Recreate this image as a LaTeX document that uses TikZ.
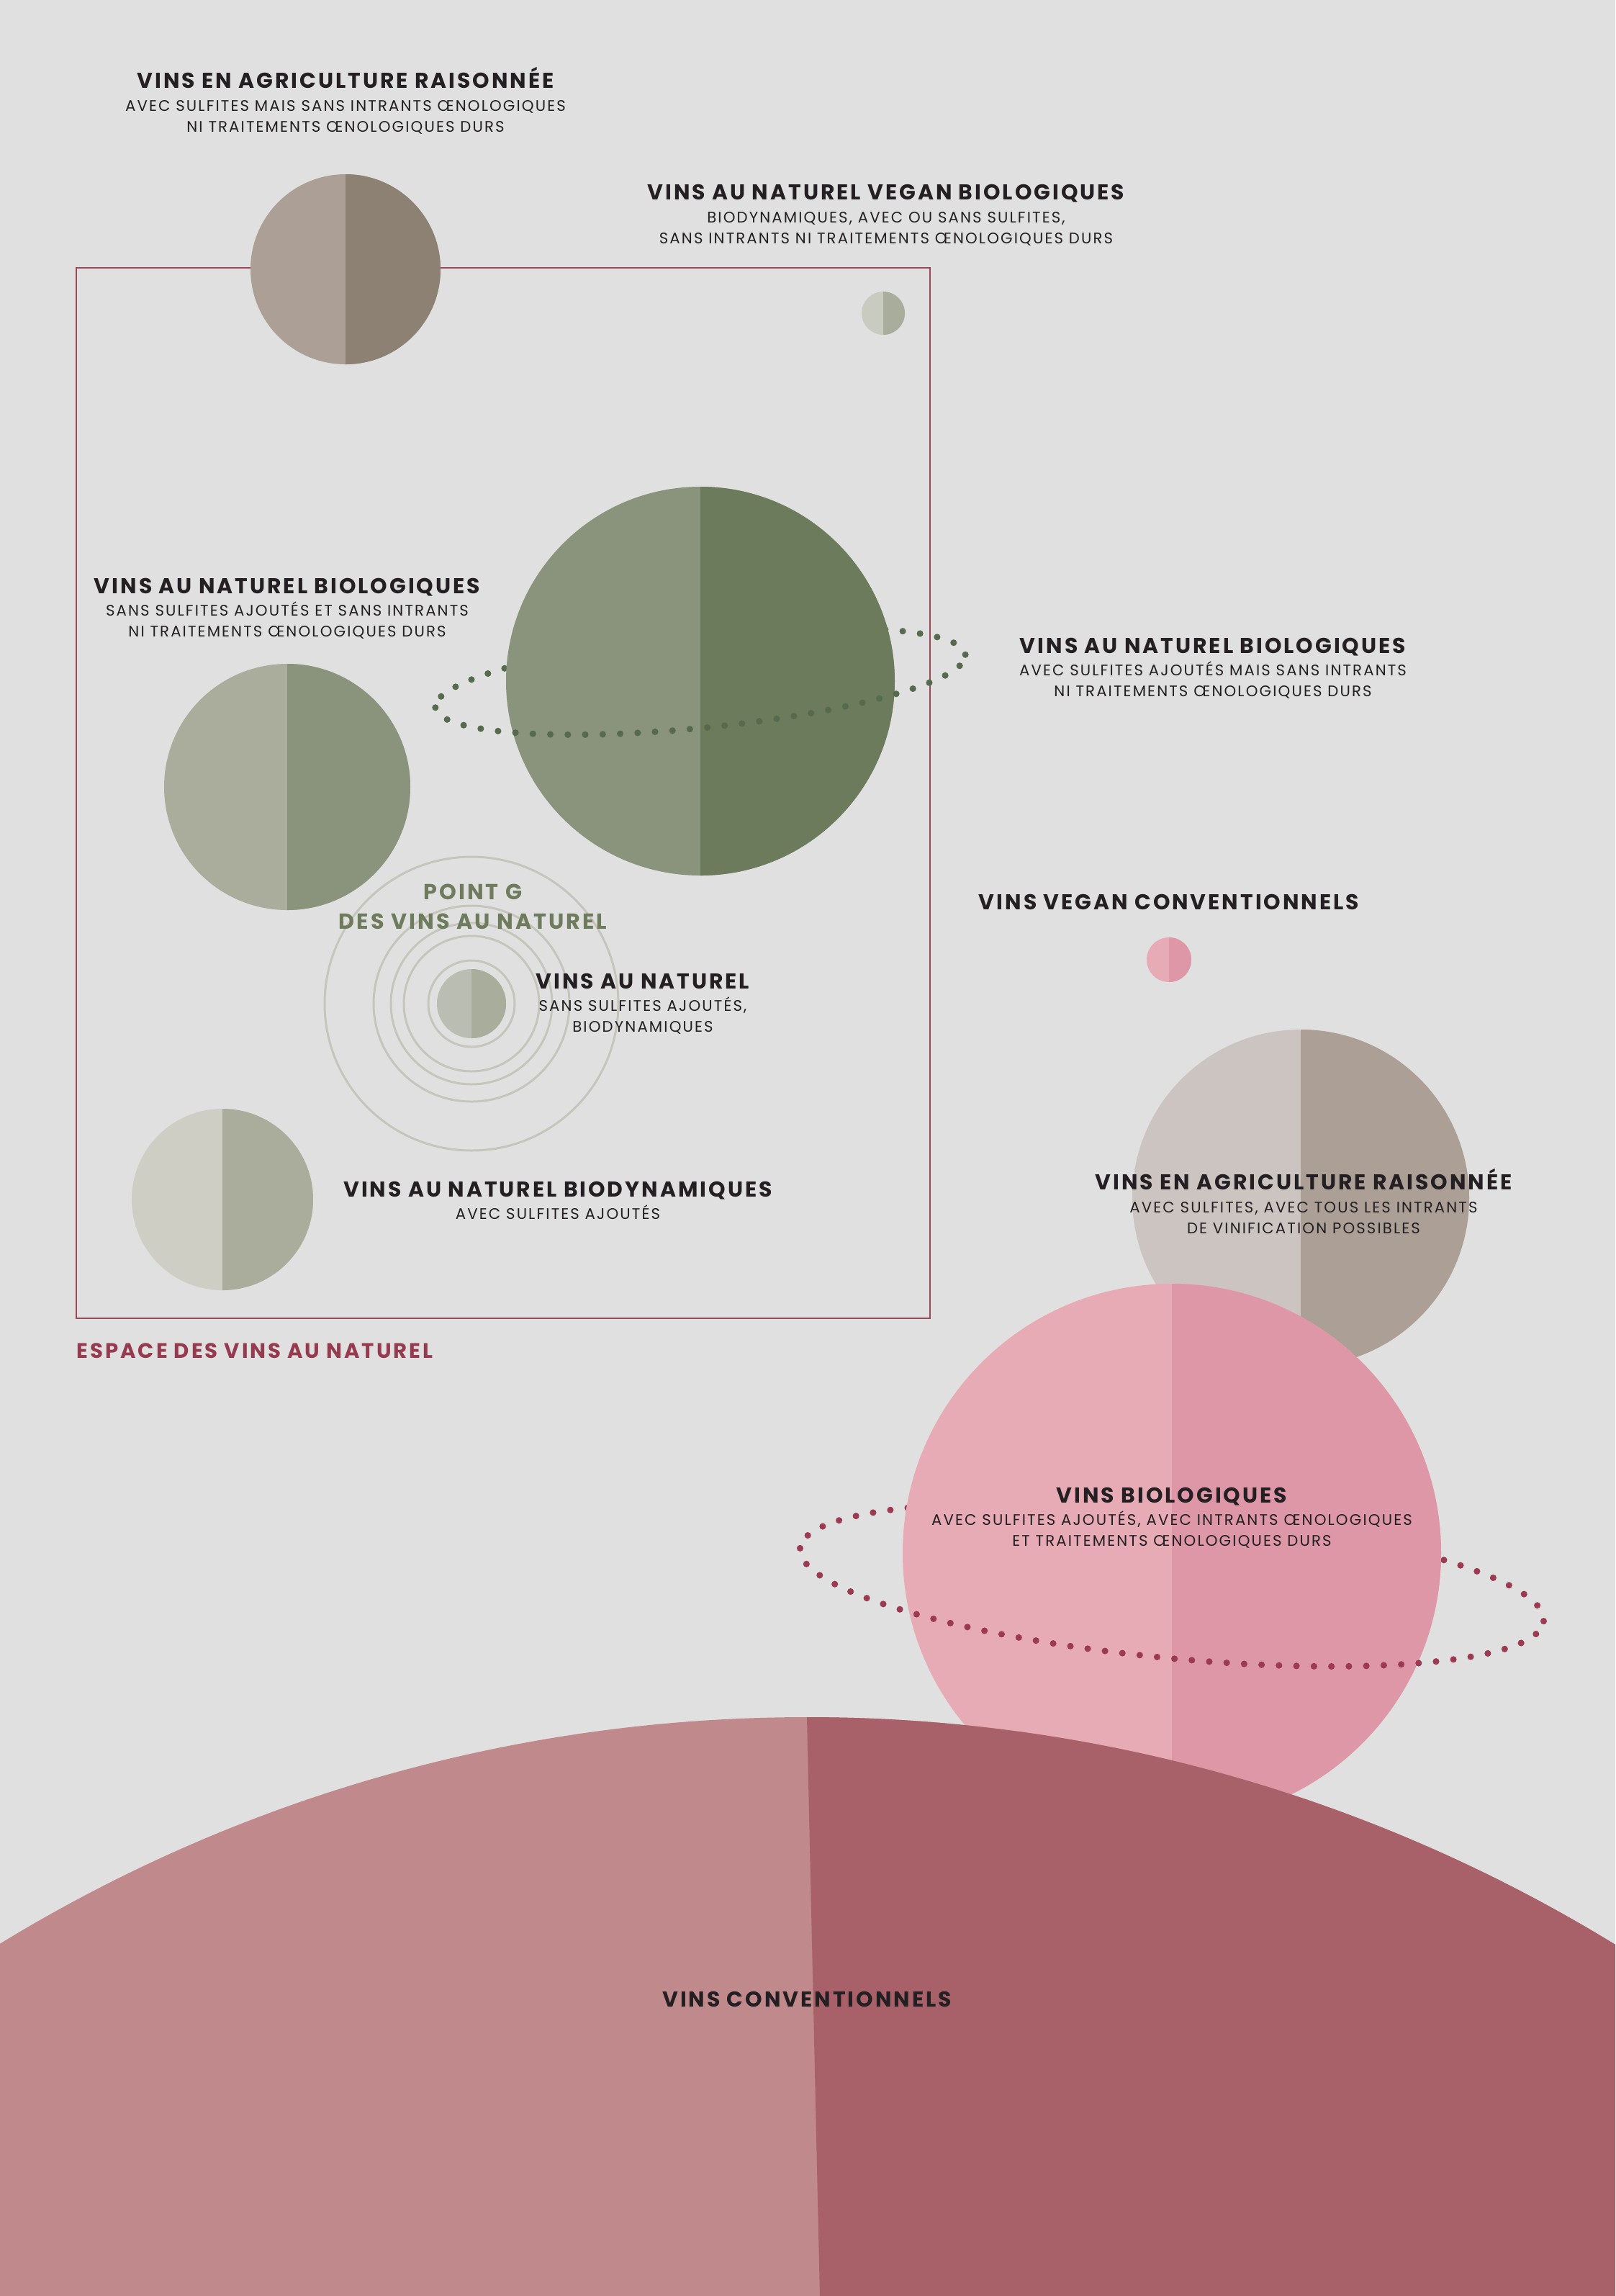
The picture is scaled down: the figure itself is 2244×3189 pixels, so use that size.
\documentclass[tikz,border=0pt]{standalone}
\usepackage{fontspec}
\setmainfont{Poppins}[LetterSpace=10]
\usepackage{tikz}
\usetikzlibrary{positioning}

\definecolor{paper}{HTML}{E0E0E0}
\definecolor{ink}{HTML}{231F22}
\definecolor{wine}{HTML}{963B4F}
\definecolor{frame}{HTML}{9C4757}
\definecolor{sage}{HTML}{6E7B5C}
\definecolor{ringgrey}{HTML}{C5C5BB}
\definecolor{dotgreen}{HTML}{566B4E}
\definecolor{dotwine}{HTML}{9C3A52}
\definecolor{taupeL}{HTML}{AB9F96}
\definecolor{taupeR}{HTML}{8D8174}
\definecolor{mistL}{HTML}{CACBC0}
\definecolor{mistR}{HTML}{A9AD9B}
\definecolor{oliveL}{HTML}{8A937C}
\definecolor{oliveR}{HTML}{6C7B5B}
\definecolor{sageL}{HTML}{ABAD9C}
\definecolor{gspotL}{HTML}{BABDB1}
\definecolor{paleL}{HTML}{CECEC5}
\definecolor{roseL}{HTML}{E7ABB5}
\definecolor{roseR}{HTML}{DE97A6}
\definecolor{sandL}{HTML}{CCC4C1}
\definecolor{convL}{HTML}{C0898C}
\definecolor{convR}{HTML}{A86168}

\tikzset{
  winetitle/.style={font=\bfseries\fontsize{8.5}{10}\selectfont, text=ink, inner sep=0pt, text height=5.9pt, text depth=0pt},
  winenote/.style={font=\fontsize{6.05}{8.4}\selectfont, text=ink, inner sep=0pt, align=center},
  orbit/.style={line width=2.6pt, line cap=round, dash pattern=on 0pt off 6.9pt},
  ring/.style={draw=ringgrey, line width=0.85pt},
}

\begin{document}
\begin{tikzpicture}[x=0.01cm, y=0.01cm]
% Paper
\fill[paper] (0,0) rectangle (2244,-3189);
\useasboundingbox (0,0) rectangle (2244,-3189);

% Espace des vins au naturel
\draw[frame, line width=0.8pt] (106,-372) rectangle (1292,-1831);

% Upper planets
\foreach \cx/\cy/\r/\lc/\rc in {480/374/132/taupeL/taupeR, 1227/435/30/mistL/mistR} {
    \fill[\lc] (\cx,-\cy) circle[radius=\r];
    \fill[\rc] (\cx,-\cy+\r) arc[start angle=90, end angle=-90, radius=\r] -- cycle;
}

% Green planet with its orbit
\draw[orbit, dotgreen, rotate around={5.7:(973,-946)}] (1343,-946) arc[start angle=0, end angle=180, x radius=370, y radius=65];
\fill[oliveL] (973,-946) circle[radius=270];
\fill[oliveR] (973,-676) arc[start angle=90, end angle=-90, radius=270] -- cycle;
\draw[orbit, dotgreen, rotate around={5.7:(973,-946)}] (603,-946) arc[start angle=180, end angle=360, x radius=370, y radius=65];

% Point G rings
\foreach \r in {60, 94, 112, 136, 204}
    \draw[ring] (655,-1394) circle[radius=\r];

% Other planets
\foreach \cx/\cy/\r/\lc/\rc in {399/1093/171/sageL/oliveL, 309/1666/126/paleL/sageL, 655/1394/48/gspotL/mistR, 1624/1333/31/roseL/roseR, 1807/1664/234/sandL/taupeL} {
    \fill[\lc] (\cx,-\cy) circle[radius=\r];
    \fill[\rc] (\cx,-\cy+\r) arc[start angle=90, end angle=-90, radius=\r] -- cycle;
}

% Pink planet with its orbit
\draw[orbit, dotwine, rotate around={-5.6:(1628,-2201)}] (2147,-2201) arc[start angle=0, end angle=180, x radius=519, y radius=102];
\fill[roseL] (1628,-2157) circle[radius=374];
\fill[roseR] (1628,-1783) arc[start angle=90, end angle=-90, radius=374] -- cycle;
\draw[orbit, dotwine, rotate around={-5.6:(1628,-2201)}] (1109,-2201) arc[start angle=180, end angle=360, x radius=519, y radius=102];

% Conventional wines
\begin{scope}
\clip (1121,-4537) circle[radius=2152];
\fill[convL] (0,-2300) rectangle (2244,-3189);
\fill[convR] (1121,-2300) -- (1121,-2385) -- (1139,-3189) -- (2244,-3189) -- (2244,-2300) -- cycle;
\end{scope}

% Labels
\node[winetitle] (raisTop) at (480,-112) {VINS EN AGRICULTURE RAISONNÉE};
\node[winenote, below=4.4pt of raisTop] (raisTopNote) {AVEC SULFITES MAIS SANS INTRANTS ŒNOLOGIQUES\\NI TRAITEMENTS ŒNOLOGIQUES DURS};

\node[winetitle] (vegan) at (1231,-267) {VINS AU NATUREL VEGAN BIOLOGIQUES};
\node[winenote, below=4.4pt of vegan] (veganNote) {BIODYNAMIQUES, AVEC OU SANS SULFITES,\\SANS INTRANTS NI TRAITEMENTS ŒNOLOGIQUES DURS};

\node[winetitle] (bioLeft) at (399,-814) {VINS AU NATUREL BIOLOGIQUES};
\node[winenote, below=2.7pt of bioLeft] (bioLeftNote) {SANS SULFITES AJOUTÉS ET SANS INTRANTS\\NI TRAITEMENTS ŒNOLOGIQUES DURS};

\node[winetitle] (bioRight) at (1685,-897) {VINS AU NATUREL BIOLOGIQUES};
\node[winenote, below=2.7pt of bioRight] (bioRightNote) {AVEC SULFITES AJOUTÉS MAIS SANS INTRANTS\\NI TRAITEMENTS ŒNOLOGIQUES DURS};

\node[font=\bfseries\fontsize{8.6}{11.7}\selectfont, text=sage, align=center, inner sep=0pt] (pointG) at (657,-1259) {POINT G\\DES VINS AU NATUREL};

\node[winetitle] (naturel) at (893,-1363) {VINS AU NATUREL};
\node[winenote, below=2.7pt of naturel] (naturelNote) {SANS SULFITES AJOUTÉS,\\BIODYNAMIQUES};

\node[winetitle] (biodyn) at (775,-1652) {VINS AU NATUREL BIODYNAMIQUES};
\node[winenote, below=2.7pt of biodyn] (biodynNote) {AVEC SULFITES AJOUTÉS};

\node[font=\bfseries\fontsize{8.3}{9}\selectfont, text=wine, anchor=west, inner sep=0pt] (espace) at (106,-1876) {ESPACE DES VINS AU NATUREL};

\node[winetitle] (veganConv) at (1624,-1253) {VINS VEGAN CONVENTIONNELS};

\node[winetitle] (raisRight) at (1811,-1642) {VINS EN AGRICULTURE RAISONNÉE};
\node[winenote, below=4.4pt of raisRight] (raisRightNote) {AVEC SULFITES, AVEC TOUS LES INTRANTS\\DE VINIFICATION POSSIBLES};

\node[winetitle] (bio) at (1628,-2077) {VINS BIOLOGIQUES};
\node[winenote, below=2.7pt of bio] (bioNote) {AVEC SULFITES AJOUTÉS, AVEC INTRANTS ŒNOLOGIQUES\\ET TRAITEMENTS ŒNOLOGIQUES DURS};

\node[winetitle] (conv) at (1121,-2777) {VINS CONVENTIONNELS};

\end{tikzpicture}
\end{document}
